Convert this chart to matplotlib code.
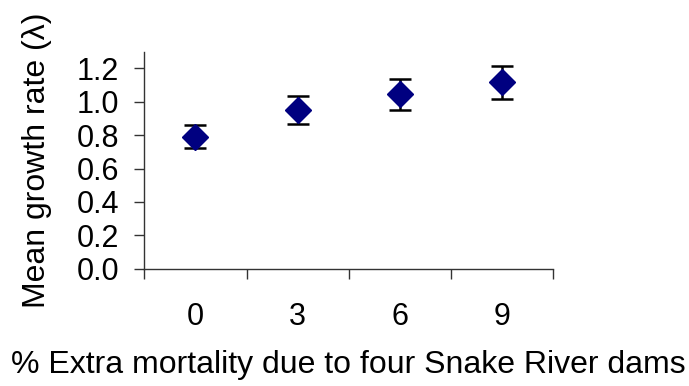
import matplotlib.pyplot as plt
import numpy as np

plt.rcParams['font.family'] = ['Liberation Sans', 'DejaVu Sans']

categories = ['0', '3', '6', '9']
means = [0.79, 0.95, 1.045, 1.118]
err_low = [0.065, 0.083, 0.093, 0.10]
err_high = [0.068, 0.082, 0.092, 0.098]
yticks = [0.0, 0.2, 0.4, 0.6, 0.8, 1.0, 1.2]

fig = plt.figure(figsize=(6.89, 3.86), dpi=100)
ax = fig.add_axes([0.2094, 0.304, 0.5935, 0.562])

pos = np.arange(len(categories))
ax.errorbar(pos, means, yerr=[err_low, err_high], fmt='none', ecolor='black',
            elinewidth=1.8, capsize=8, capthick=1.8, zorder=2)
ax.plot(pos, means, linestyle='none', marker='D', markersize=13,
        color='#000080', zorder=3)

ax.set_xlim(-0.5, len(categories) - 0.5)
ax.set_ylim(0, 1.3)
ax.set_yticks(yticks)
ax.set_yticklabels(['%.1f' % v for v in yticks])
ax.set_xticks(pos)
ax.set_xticklabels(categories)
ax.set_xticks(np.arange(-0.5, len(categories), 1.0), minor=True)
ax.tick_params(axis='x', which='major', length=0, pad=24, labelsize=22)
ax.tick_params(axis='x', which='minor', length=7.5, width=1, direction='out', color='#333333')
ax.tick_params(axis='y', length=7.5, width=1, direction='out', pad=10.5, labelsize=22, color='#333333')

for s in ['top', 'right']:
    ax.spines[s].set_visible(False)
for s in ['left', 'bottom']:
    ax.spines[s].set_color('#333333')
    ax.spines[s].set_linewidth(1)

ax.set_ylabel('Mean growth rate (λ)', fontsize=23, labelpad=18)
ax.set_xlabel('% Extra mortality due to four Snake River dams', fontsize=23, labelpad=13)

fig.savefig('out.png', dpi=100)
